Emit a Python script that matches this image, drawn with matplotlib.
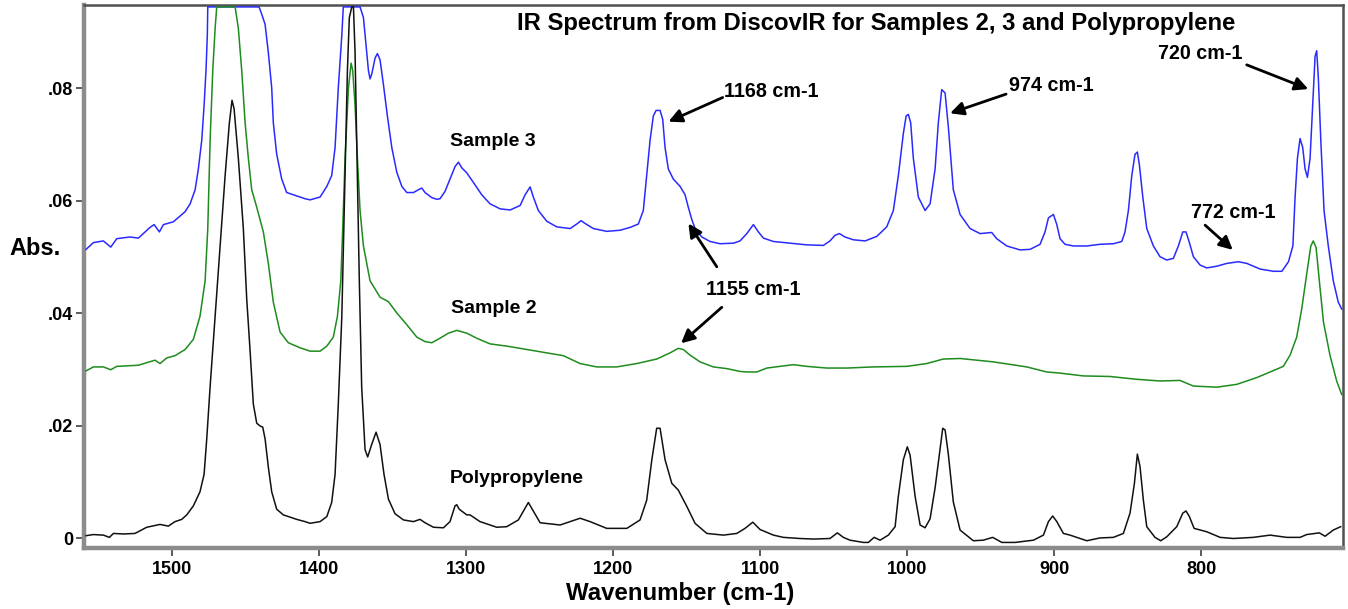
import matplotlib
matplotlib.use('Agg')
import matplotlib.pyplot as plt

# ---------------- data ----------------
wn_s3 = [1558.5, 1553.5, 1546.7, 1541.7, 1537.6, 1528.6, 1522.9, 1515.0, 1512.2, 1508.6,
         1505.9, 1499.1, 1491.1, 1487.7, 1484.3, 1482.1, 1479.8, 1478.2, 1476.9, 1476.0,
         1475.7, 1440.8, 1439.0, 1436.7, 1434.5, 1432.2, 1431.1, 1428.8, 1425.4, 1422.0,
         1417.5, 1409.5, 1406.1, 1399.3, 1394.7, 1391.4, 1389.1, 1386.9, 1384.5, 1383.5,
         1372.1, 1369.8, 1368.2, 1366.4, 1365.3, 1364.1, 1361.9, 1360.3, 1358.5, 1356.2,
         1353.5, 1350.5, 1347.1, 1343.7, 1340.3, 1335.8, 1332.4, 1330.1, 1327.9, 1323.3,
         1319.9, 1317.7, 1314.3, 1310.9, 1307.5, 1305.2, 1302.9, 1299.5, 1295.0, 1289.3,
         1283.7, 1276.8, 1270.0, 1263.2, 1259.8, 1256.4, 1254.2, 1250.8, 1245.1, 1238.3,
         1229.2, 1224.7, 1221.7, 1219.0, 1213.4, 1204.3, 1195.2, 1188.4, 1182.8, 1179.4,
         1177.1, 1174.8, 1172.6, 1170.7, 1168.0, 1166.2, 1164.6, 1162.4, 1159.0, 1154.4,
         1151.0, 1148.8, 1146.4, 1144.2, 1139.6, 1134.0, 1127.2, 1118.1, 1113.6, 1109.0,
         1104.5, 1101.1, 1097.7, 1090.9, 1079.6, 1068.2, 1056.9, 1052.4, 1049.0, 1046.0,
         1042.2, 1036.5, 1028.5, 1020.6, 1013.8, 1009.3, 1005.9, 1002.5, 1000.6, 999.1,
         997.5, 995.7, 992.3, 987.7, 984.3, 980.9, 978.7, 976.4, 974.1, 971.9,
         968.5, 963.9, 957.1, 950.3, 942.4, 939.0, 932.1, 923.1, 916.3, 909.5,
         906.1, 903.8, 900.4, 898.1, 895.9, 892.5, 886.8, 877.7, 868.7, 859.6,
         853.9, 851.7, 849.4, 847.1, 844.9, 843.3, 841.9, 839.6, 836.9, 832.4,
         827.9, 823.3, 818.8, 815.4, 812.4, 810.2, 807.9, 805.2, 800.6, 796.1,
         789.3, 782.5, 774.5, 768.8, 759.8, 750.7, 745.0, 740.5, 737.5, 736.0,
         734.4, 732.6, 730.8, 729.2, 727.6, 725.8, 724.0, 722.4, 721.3, 720.2,
         718.5, 716.3, 713.4, 710.0, 706.6, 704.3]
abs_s3 = [0.0514, 0.0526, 0.0529, 0.0518, 0.0533, 0.0536, 0.0534, 0.0553, 0.0558, 0.0545,
          0.0558, 0.0563, 0.0581, 0.0595, 0.0620, 0.0657, 0.0708, 0.0770, 0.0832, 0.0895,
          0.0945, 0.0945, 0.0932, 0.0914, 0.0864, 0.0801, 0.0739, 0.0683, 0.0639, 0.0615,
          0.0611, 0.0604, 0.0602, 0.0607, 0.0626, 0.0645, 0.0695, 0.0801, 0.0895, 0.0945,
          0.0945, 0.0926, 0.0882, 0.0832, 0.0817, 0.0826, 0.0854, 0.0862, 0.0851, 0.0807,
          0.0751, 0.0695, 0.0651, 0.0626, 0.0615, 0.0615, 0.0620, 0.0623, 0.0615, 0.0606,
          0.0603, 0.0604, 0.0617, 0.0639, 0.0661, 0.0669, 0.0659, 0.0650, 0.0633, 0.0611,
          0.0595, 0.0586, 0.0584, 0.0592, 0.0611, 0.0625, 0.0607, 0.0583, 0.0564, 0.0554,
          0.0551, 0.0559, 0.0565, 0.0560, 0.0551, 0.0546, 0.0548, 0.0553, 0.0559, 0.0583,
          0.0645, 0.0708, 0.0751, 0.0761, 0.0761, 0.0745, 0.0695, 0.0657, 0.0639, 0.0626,
          0.0611, 0.0589, 0.0567, 0.0551, 0.0536, 0.0528, 0.0524, 0.0525, 0.0529, 0.0542,
          0.0558, 0.0545, 0.0534, 0.0528, 0.0525, 0.0522, 0.0521, 0.0529, 0.0539, 0.0542,
          0.0536, 0.0531, 0.0529, 0.0537, 0.0554, 0.0583, 0.0645, 0.0720, 0.0751, 0.0754,
          0.0739, 0.0676, 0.0607, 0.0583, 0.0595, 0.0657, 0.0739, 0.0798, 0.0792, 0.0732,
          0.0620, 0.0576, 0.0551, 0.0542, 0.0544, 0.0533, 0.0520, 0.0513, 0.0514, 0.0523,
          0.0545, 0.0570, 0.0576, 0.0558, 0.0533, 0.0523, 0.0520, 0.0520, 0.0523, 0.0524,
          0.0528, 0.0545, 0.0583, 0.0645, 0.0683, 0.0687, 0.0664, 0.0607, 0.0551, 0.0520,
          0.0501, 0.0495, 0.0498, 0.0520, 0.0545, 0.0545, 0.0526, 0.0501, 0.0486, 0.0481,
          0.0484, 0.0489, 0.0492, 0.0489, 0.0479, 0.0475, 0.0475, 0.0492, 0.0520, 0.0607,
          0.0676, 0.0711, 0.0695, 0.0657, 0.0642, 0.0676, 0.0770, 0.0857, 0.0867, 0.0820,
          0.0708, 0.0583, 0.0520, 0.0458, 0.0420, 0.0408]

wn_s2 = [1558.5, 1553.5, 1546.7, 1541.7, 1537.6, 1522.9, 1511.6, 1508.2, 1503.6, 1498.0,
         1491.1, 1485.5, 1481.0, 1477.5, 1475.7, 1474.1, 1472.3, 1470.7, 1469.6, 1457.1,
         1454.9, 1452.6, 1450.3, 1448.1, 1445.8, 1442.4, 1437.9, 1434.5, 1431.1, 1426.5,
         1420.9, 1412.9, 1406.1, 1399.3, 1394.7, 1390.3, 1387.5, 1385.2, 1383.9, 1382.3,
         1380.0, 1378.2, 1377.1, 1375.5, 1373.9, 1372.1, 1369.8, 1365.3, 1358.5, 1352.8,
         1347.1, 1340.3, 1333.5, 1327.9, 1323.3, 1317.7, 1312.0, 1306.3, 1299.5, 1292.7,
         1283.7, 1272.3, 1263.2, 1254.2, 1245.1, 1233.8, 1222.4, 1211.1, 1197.5, 1183.9,
         1170.3, 1161.2, 1155.6, 1152.2, 1147.6, 1140.8, 1131.8, 1122.6, 1113.6, 1109.0,
         1102.2, 1095.4, 1086.4, 1077.3, 1068.2, 1054.6, 1041.0, 1022.9, 1000.2, 986.6,
         975.3, 963.9, 941.3, 918.5, 904.9, 895.9, 880.0, 861.9, 843.7, 827.9,
         814.3, 805.2, 789.3, 775.7, 762.1, 753.0, 744.0, 739.4, 734.9, 731.5,
         728.1, 725.3, 723.6, 721.7, 719.5, 716.7, 712.2, 707.7, 704.3]
abs_s2 = [0.0298, 0.0305, 0.0305, 0.0300, 0.0306, 0.0308, 0.0317, 0.0311, 0.0321, 0.0325,
          0.0336, 0.0354, 0.0395, 0.0458, 0.0551, 0.0708, 0.0832, 0.0907, 0.0945, 0.0945,
          0.0907, 0.0832, 0.0739, 0.0676, 0.0620, 0.0589, 0.0545, 0.0489, 0.0420, 0.0367,
          0.0348, 0.0339, 0.0333, 0.0333, 0.0342, 0.0358, 0.0395, 0.0458, 0.0551, 0.0676,
          0.0801, 0.0845, 0.0832, 0.0770, 0.0676, 0.0583, 0.0520, 0.0458, 0.0429, 0.0421,
          0.0401, 0.0380, 0.0358, 0.0350, 0.0348, 0.0356, 0.0365, 0.0370, 0.0365, 0.0356,
          0.0346, 0.0342, 0.0338, 0.0334, 0.0330, 0.0325, 0.0311, 0.0305, 0.0305, 0.0311,
          0.0319, 0.0330, 0.0338, 0.0336, 0.0326, 0.0314, 0.0305, 0.0302, 0.0297, 0.0296,
          0.0296, 0.0303, 0.0306, 0.0309, 0.0306, 0.0303, 0.0303, 0.0305, 0.0306, 0.0311,
          0.0319, 0.0320, 0.0314, 0.0305, 0.0296, 0.0294, 0.0289, 0.0288, 0.0283, 0.0280,
          0.0281, 0.0271, 0.0269, 0.0274, 0.0286, 0.0296, 0.0306, 0.0326, 0.0358, 0.0408,
          0.0470, 0.0520, 0.0529, 0.0517, 0.0458, 0.0385, 0.0325, 0.0280, 0.0256]

wn_pp = [1558.5, 1553.5, 1546.7, 1542.6, 1539.9, 1533.1, 1525.2, 1517.2, 1508.2, 1502.5,
         1498.0, 1493.4, 1490.0, 1485.5, 1481.0, 1478.2, 1476.4, 1474.1, 1470.7, 1467.3,
         1463.9, 1461.0, 1459.2, 1457.8, 1454.9, 1451.5, 1449.2, 1446.9, 1444.7, 1442.4,
         1440.1, 1438.3, 1436.7, 1434.5, 1432.2, 1428.8, 1424.3, 1415.2, 1409.5, 1406.1,
         1399.3, 1394.7, 1391.4, 1389.1, 1386.9, 1384.5, 1382.3, 1380.7, 1379.4, 1377.7,
         1376.6, 1375.5, 1374.4, 1372.6, 1371.0, 1368.7, 1366.9, 1364.2, 1361.2, 1358.5,
         1355.8, 1352.8, 1348.3, 1342.6, 1335.8, 1331.3, 1327.9, 1322.2, 1315.4, 1310.9,
         1307.5, 1306.3, 1304.6, 1299.5, 1297.3, 1290.5, 1288.2, 1279.1, 1272.3, 1264.4,
         1257.6, 1249.6, 1236.0, 1222.4, 1215.6, 1204.3, 1190.6, 1181.6, 1177.1, 1173.6,
         1170.3, 1168.0, 1164.6, 1160.0, 1155.6, 1149.8, 1144.2, 1136.2, 1124.9, 1115.8,
         1110.2, 1104.9, 1100.0, 1090.9, 1084.1, 1072.8, 1063.7, 1052.4, 1047.4, 1043.3,
         1038.8, 1029.7, 1026.3, 1022.4, 1018.3, 1012.7, 1008.1, 1005.9, 1002.5, 999.8,
         997.9, 994.5, 991.1, 987.7, 984.3, 980.9, 977.5, 975.7, 974.1, 971.9,
         968.5, 963.9, 954.9, 948.1, 941.7, 935.5, 926.5, 914.0, 907.2, 903.8,
         900.9, 898.1, 893.6, 889.1, 877.7, 868.7, 859.6, 852.8, 848.3, 845.3,
         843.3, 841.5, 839.2, 836.9, 831.3, 827.4, 823.3, 816.5, 812.4, 810.2,
         807.9, 804.7, 796.1, 787.0, 778.0, 764.4, 753.0, 741.7, 732.6, 728.1,
         719.5, 715.6, 710.0, 705.0]
abs_pp = [0.0005, 0.0007, 0.0006, 0.0002, 0.0009, 0.0008, 0.0009, 0.0020, 0.0025, 0.0022,
          0.0030, 0.0034, 0.0042, 0.0058, 0.0083, 0.0114, 0.0177, 0.0270, 0.0395, 0.0520,
          0.0645, 0.0739, 0.0779, 0.0764, 0.0676, 0.0551, 0.0426, 0.0333, 0.0239, 0.0205,
          0.0200, 0.0198, 0.0177, 0.0127, 0.0083, 0.0052, 0.0042, 0.0034, 0.0030, 0.0027,
          0.0030, 0.0039, 0.0064, 0.0114, 0.0239, 0.0395, 0.0645, 0.0832, 0.0926, 0.0945,
          0.0945, 0.0864, 0.0708, 0.0458, 0.0270, 0.0158, 0.0145, 0.0167, 0.0189, 0.0167,
          0.0114, 0.0070, 0.0044, 0.0033, 0.0030, 0.0034, 0.0028, 0.0020, 0.0019, 0.0030,
          0.0058, 0.0060, 0.0052, 0.0042, 0.0042, 0.0030, 0.0028, 0.0020, 0.0021, 0.0033,
          0.0064, 0.0028, 0.0024, 0.0036, 0.0030, 0.0018, 0.0018, 0.0033, 0.0068, 0.0140,
          0.0196, 0.0196, 0.0140, 0.0098, 0.0086, 0.0057, 0.0027, 0.0009, 0.0006, 0.0009,
          0.0018, 0.0029, 0.0016, 0.0006, 0.0002, 0.0000, -0.0001, 0.0000, 0.0010, 0.0002,
          -0.0003, -0.0007, -0.0007, 0.0002, -0.0003, 0.0006, 0.0021, 0.0075, 0.0140, 0.0163,
          0.0148, 0.0075, 0.0024, 0.0019, 0.0035, 0.0090, 0.0160, 0.0196, 0.0193, 0.0150,
          0.0065, 0.0015, -0.0004, -0.0003, 0.0002, -0.0007, -0.0007, -0.0003, 0.0006, 0.0030,
          0.0040, 0.0030, 0.0009, 0.0006, -0.0004, 0.0001, 0.0002, 0.0009, 0.0045, 0.0098,
          0.0150, 0.0128, 0.0068, 0.0021, 0.0002, -0.0004, 0.0003, 0.0021, 0.0045, 0.0049,
          0.0039, 0.0018, 0.0012, 0.0002, 0.0000, 0.0002, 0.0006, 0.0002, 0.0002, 0.0007,
          0.0010, 0.0004, 0.0015, 0.0021]

x_ticks = [1500, 1400, 1300, 1200, 1100, 1000, 900, 800]
x_tick_labels = ['1500', '1400', '1300', '1200', '1100', '1000', '900', '800']
y_ticks = [0.0, 0.02, 0.04, 0.06, 0.08]
y_tick_labels = ['0', '.02', '.04', '.06', '.08']

series_labels = ['Sample 3', 'Sample 2', 'Polypropylene']
series_label_pos = [(1310.9, 0.0698), (1310.2, 0.0401), (1310.9, 0.0099)]

peak_labels = ['1168 cm-1', '1155 cm-1', '974 cm-1', '720 cm-1', '772 cm-1']
peak_label_pos = [(1124.5, 0.0785), (1136.7, 0.0433), (930.4, 0.0796), (829.0, 0.0852), (806.8, 0.0569)]
# arrows: (tail, head)
arrows = [((1125.4, 0.0784), (1162.3, 0.0741)),
          ((1129.4, 0.0483), (1148.7, 0.0560)),
          ((1126.0, 0.0411), (1153.7, 0.0347)),
          ((932.6, 0.0790), (970.7, 0.0756)),
          ((768.9, 0.0842), (727.0, 0.0799)),
          ((797.2, 0.0557), (778.4, 0.0513))]

title = 'IR Spectrum from DiscovIR for Samples 2, 3 and Polypropylene'

# ---------------- drawing ----------------
plt.rcParams['font.family'] = ['Liberation Sans', 'DejaVu Sans']

W, H = 1348, 609
fig = plt.figure(figsize=(W / 100, H / 100), dpi=100)
ax = fig.add_axes([84 / W, 61 / H, (1343 - 84) / W, (548 - 5) / H])

ax.plot(wn_s3, abs_s3, color='#2a2aff', lw=1.1, zorder=3)
ax.plot(wn_s2, abs_s2, color='#1e8c1e', lw=1.1, zorder=3)
ax.plot(wn_pp, abs_pp, color='#111111', lw=1.1, zorder=4)

ax.set_xlim(1559.9, 703.4)
ax.set_ylim(-0.00169, 0.09484)

ax.set_xticks(x_ticks)
ax.set_xticklabels(x_tick_labels, fontsize=13, fontweight='bold')
ax.set_yticks(y_ticks)
ax.set_yticklabels(y_tick_labels, fontsize=13, fontweight='bold')
ax.tick_params(direction='out', length=6, width=1.2, color='#404040', pad=2)
ax.tick_params(axis='x', pad=3)

for side in ('top', 'right'):
    ax.spines[side].set_color('#505050')
    ax.spines[side].set_linewidth(1.8)
for side in ('left', 'bottom'):
    ax.spines[side].set_color('#8c8c8c')
    ax.spines[side].set_linewidth(3.2)

ax.text(1265.5, 0.0904, title, fontsize=17.2, fontweight='bold', ha='left', va='baseline')

for lab, (x, y) in zip(series_labels, series_label_pos):
    ax.text(x, y, lab, fontsize=14, fontweight='bold', ha='left', va='baseline')
for lab, (x, y) in zip(peak_labels, peak_label_pos):
    ax.text(x, y, lab, fontsize=14.2, fontweight='bold', ha='left', va='baseline')

for tail, head in arrows:
    ax.annotate('', xy=head, xytext=tail,
                arrowprops=dict(arrowstyle='-|>', color='black', lw=2.0,
                                mutation_scale=20, shrinkA=0, shrinkB=0))

fig.text(9.3 / W, 1 - 255 / H, 'Abs.', fontsize=17, fontweight='bold', ha='left', va='baseline')
fig.text(680.5 / W, 1 - 600 / H, 'Wavenumber (cm-1)', fontsize=17.3, fontweight='bold',
         ha='center', va='baseline')

fig.savefig('out.png', dpi=100)
